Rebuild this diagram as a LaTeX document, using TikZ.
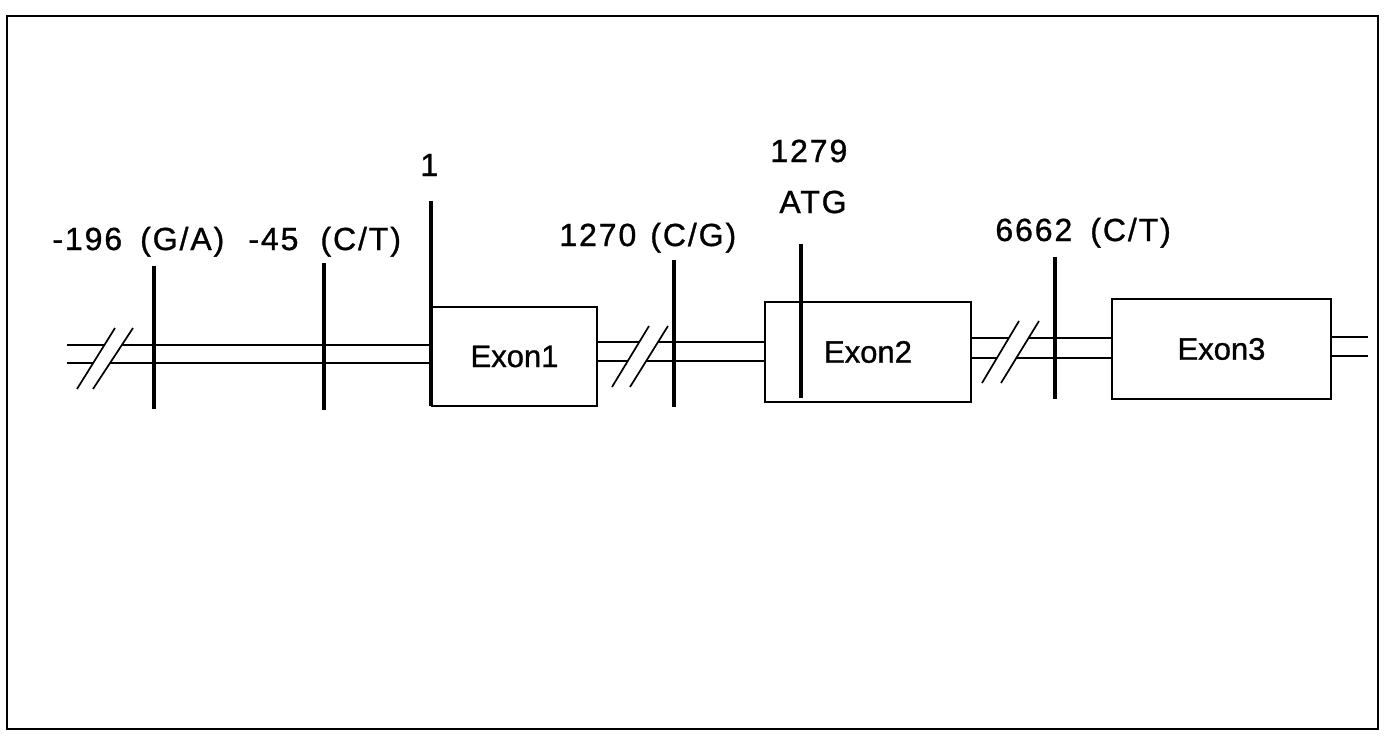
\documentclass[tikz,border=0pt]{standalone}
\usepackage{fontspec}
\setmainfont{Liberation Sans}
\newfontfamily\lblfont[LetterSpace=6,FakeBold=1]{Liberation Sans}
\newfontfamily\exonfont[FakeBold=1]{Liberation Sans}
\begin{document}
\begin{tikzpicture}[x=0.5pt,y=-0.5pt,
  lbl/.style={font=\lblfont\fontsize{16}{19}\selectfont, inner sep=0pt, anchor=base west},
  exon/.style={draw, line width=1.1pt, font=\exonfont\fontsize{15.5}{18}\selectfont, inner sep=0pt},
  tickline/.style={line width=2.1pt},
  dna/.style={line width=0.85pt},
  brkline/.style={line width=0.85pt},
  frameline/.style={line width=1.3pt}]
\useasboundingbox (0,0) rectangle (1387,740);
\draw[frameline] (7,16) rectangle (1378,729);

% exons
\node[exon, minimum width=82.5pt, minimum height=49.5pt] (e1) at (514.5,356.5) {Exon1};
\node[exon, minimum width=103pt, minimum height=50pt] (e2) at (868,352) {Exon2};
\node[exon, minimum width=109.5pt, minimum height=50pt] (e3) at (1221.5,349) {Exon3};

% labels
\node[lbl] (t196) at (52,250) {-196\hspace{9pt}(G/A)};
\node[lbl] (t45) at (248,250) {-45\hspace{11pt}(C/T)};
\node[lbl] (t1) at (420,176) {1};
\node[lbl] (t1270) at (559,246) {1270\hspace{7pt}(C/G)};
\node[lbl] (t1279) at (770,162) {1279};
\node[lbl] (tatg) at (779,213) {ATG};
\node[lbl] (t6662) at (995,241) {6662\hspace{9pt}(C/T)};

% segment A (left end to exon1)
\coordinate (Lu) at (67,345); \coordinate (Ll) at (67,363);
\coordinate (yAu) at (0,345); \coordinate (yAl) at (0,363);
\coordinate (Au) at (e1.west |- yAu); \coordinate (Al) at (e1.west |- yAl);
\coordinate (a1) at (77,389); \coordinate (a2) at (115,328);
\coordinate (a3) at (93,389); \coordinate (a4) at (133,328);
\draw[dna] (Lu) -- (intersection of Lu--Au and a1--a2);
\draw[dna] (intersection of Lu--Au and a3--a4) -- (Au);
\draw[dna] (Ll) -- (intersection of Ll--Al and a1--a2);
\draw[dna] (intersection of Ll--Al and a3--a4) -- (Al);
\draw[brkline] (a1) -- (a2);
\draw[brkline] (a3) -- (a4);

% segment B (exon1 to exon2)
\coordinate (yBu) at (0,342); \coordinate (yBl) at (0,361);
\coordinate (B1u) at (e1.east |- yBu); \coordinate (B2u) at (e2.west |- yBu);
\coordinate (B1l) at (e1.east |- yBl); \coordinate (B2l) at (e2.west |- yBl);
\coordinate (b1) at (612,387); \coordinate (b2) at (649,326);
\coordinate (b3) at (630,387); \coordinate (b4) at (668,326);
\draw[dna] (B1u) -- (intersection of B1u--B2u and b1--b2);
\draw[dna] (intersection of B1u--B2u and b3--b4) -- (B2u);
\draw[dna] (B1l) -- (intersection of B1l--B2l and b1--b2);
\draw[dna] (intersection of B1l--B2l and b3--b4) -- (B2l);
\draw[brkline] (b1) -- (b2);
\draw[brkline] (b3) -- (b4);

% segment C (exon2 to exon3)
\coordinate (yCu) at (0,338); \coordinate (yCl) at (0,358);
\coordinate (C1u) at (e2.east |- yCu); \coordinate (C2u) at (e3.west |- yCu);
\coordinate (C1l) at (e2.east |- yCl); \coordinate (C2l) at (e3.west |- yCl);
\coordinate (c1) at (982,383); \coordinate (c2) at (1019,321);
\coordinate (c3) at (1001,383); \coordinate (c4) at (1039,321);
\draw[dna] (C1u) -- (intersection of C1u--C2u and c1--c2);
\draw[dna] (intersection of C1u--C2u and c3--c4) -- (C2u);
\draw[dna] (C1l) -- (intersection of C1l--C2l and c1--c2);
\draw[dna] (intersection of C1l--C2l and c3--c4) -- (C2l);
\draw[brkline] (c1) -- (c2);
\draw[brkline] (c3) -- (c4);

% segment D (exon3 to right end)
\coordinate (yDu) at (0,337); \coordinate (yDl) at (0,356);
\coordinate (D1u) at (e3.east |- yDu); \coordinate (D1l) at (e3.east |- yDl);
\coordinate (D2u) at (1368,337); \coordinate (D2l) at (1368,356);
\draw[dna] (D1u) -- (D2u);
\draw[dna] (D1l) -- (D2l);

% SNP ticks
\draw[tickline] (154,266) -- (154,409);
\draw[tickline] (324,263) -- (324,410);
\draw[tickline] (431,201) -- (431,406);
\draw[tickline] (674,260) -- (674,407);
\draw[tickline] (801,244) -- (801,398);
\draw[tickline] (1055,257) -- (1055,399);
\end{tikzpicture}
\end{document}
